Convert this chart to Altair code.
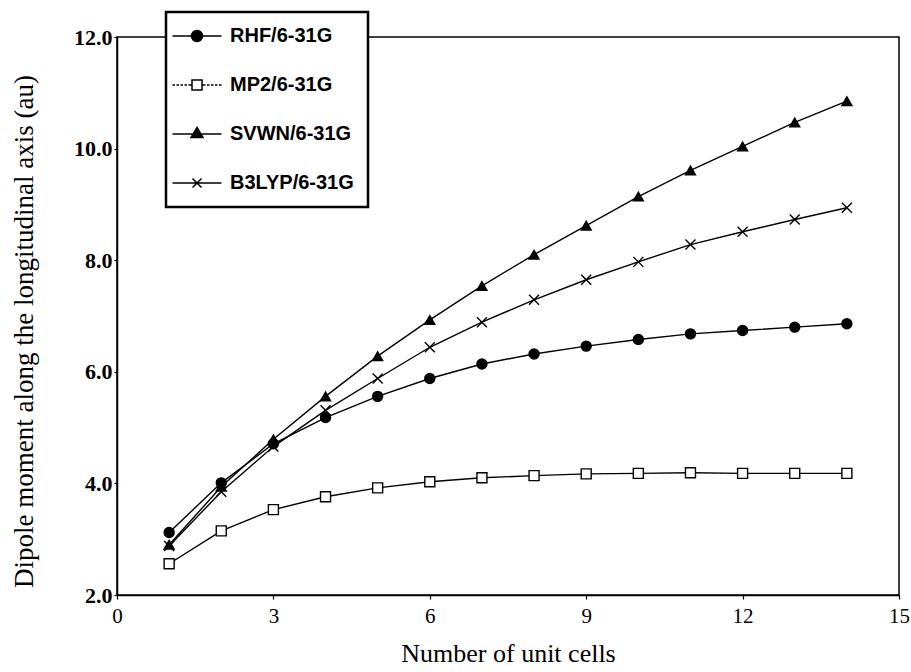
import altair as alt
import pandas as pd

# ---- data ----
cells = list(range(1, 15))
series_names = ["RHF/6-31G", "MP2/6-31G", "SVWN/6-31G", "B3LYP/6-31G"]
rhf = [3.12, 4.01, 4.71, 5.18, 5.56, 5.88, 6.14, 6.32, 6.46, 6.58, 6.68, 6.74, 6.80, 6.86]
mp2 = [2.56, 3.15, 3.53, 3.76, 3.92, 4.03, 4.10, 4.14, 4.17, 4.18, 4.19, 4.18, 4.18, 4.18]
svwn = [2.90, 3.94, 4.79, 5.56, 6.28, 6.93, 7.54, 8.10, 8.62, 9.14, 9.61, 10.04, 10.47, 10.85]
b3lyp = [2.88, 3.85, 4.66, 5.31, 5.88, 6.44, 6.89, 7.29, 7.65, 7.97, 8.28, 8.51, 8.73, 8.94]
x_ticks = [0, 3, 6, 9, 12, 15]
y_ticks = [2, 4, 6, 8, 10, 12]

rows = []
for name, vals in zip(series_names, [rhf, mp2, svwn, b3lyp]):
    for c, v in zip(cells, vals):
        rows.append({"cells": c, "dipole": v, "series": name})
df = pd.DataFrame(rows)

# ---- marker styles ----
X_PATH = "M-1,-1L1,1M-1,1L1,-1"
point_shapes = ["circle", "square", "triangle-up", X_PATH]
point_fills = ["black", "white", "black", "black"]

dash_l = "M-4.9,0H-4.4M-4.1,0H-3.6M-3.3,0H-2.8M-2.5,0H-2.0M-1.7,0H-1.0"
dash_r = "M1.0,0H1.7M2.0,0H2.5M2.8,0H3.3M3.6,0H4.1M4.4,0H4.9"
legend_shapes = [
    "M-4.9,0H-1.1M1.1,0H4.9M-1.1,0A1.1,1.1,0,1,1,1.1,0A1.1,1.1,0,1,1,-1.1,0Z",
    dash_l + dash_r + "M-1,-1H1V1H-1Z",
    "M-4.9,0H4.9M0,-1.3L1.2,0.7L-1.2,0.7Z",
    "M-4.9,0H4.9M-0.9,-0.9L0.9,0.9M-0.9,0.9L0.9,-0.9",
]

x_enc = alt.X(
    "cells:Q",
    scale=alt.Scale(domain=[0, 15], nice=False, zero=False),
    axis=alt.Axis(
        values=x_ticks, title="Number of unit cells", labelFont="Liberation Serif",
        labelFontSize=21, labelFontWeight="normal", titleFont="Liberation Serif",
        titleFontSize=26, titleFontWeight="normal", tickSize=4, labelPadding=6,
        titleY=66, titleBaseline="alphabetic", labelFlush=False,
    ),
)
y_enc = alt.Y(
    "dipole:Q",
    scale=alt.Scale(domain=[2, 12], nice=False, zero=False),
    axis=alt.Axis(
        values=y_ticks, format=".1f",
        title="Dipole moment along the longitudinal axis (au)",
        labelFont="Liberation Serif", labelFontSize=22, labelFontWeight="bold",
        titleFont="Liberation Serif", titleFontSize=27, titleFontWeight="normal",
        tickSize=3, labelPadding=2, titleX=-85, titleY=294,
        titleBaseline="alphabetic", labelFlush=False,
    ),
)

lines = alt.Chart(df).mark_line(color="black", strokeWidth=1.4).encode(
    x=x_enc, y=y_enc, detail="series:N", order="cells:Q"
)

points = alt.Chart(df).mark_point(filled=True, size=100, stroke="black", strokeWidth=1.4, opacity=1).encode(
    x=x_enc,
    y=y_enc,
    shape=alt.Shape("series:N", scale=alt.Scale(domain=series_names, range=point_shapes), legend=None),
    fill=alt.Fill("series:N", scale=alt.Scale(domain=series_names, range=point_fills), legend=None),
)

legend_props = dict(
    title=None, orient="none", legendX=49, legendY=-25,
    labelFont="Liberation Sans", labelFontSize=20, labelFontWeight="bold",
    labelColor="black", symbolSize=100, symbolStrokeWidth=1.5, symbolOpacity=1,
    symbolOffset=7, labelOffset=23, rowPadding=29, padding=14,
    fillColor="white", strokeColor="black",
)

legend_layer = alt.Chart(df).transform_filter("false").mark_point(
    filled=True, stroke="black", strokeWidth=1.5
).encode(
    shape=alt.Shape(
        "series:N",
        scale=alt.Scale(domain=series_names, range=legend_shapes),
        legend=alt.Legend(**legend_props),
    ),
    fill=alt.Fill(
        "series:N",
        scale=alt.Scale(domain=series_names, range=point_fills),
        legend=alt.Legend(**legend_props),
    ),
)

chart = (
    alt.layer(lines, points, legend_layer)
    .resolve_scale(shape="independent", fill="independent")
    .properties(
        width=782, height=558,
        autosize=alt.AutoSizeParams(type="none"),
        padding={"left": 117, "top": 37, "right": 12, "bottom": 77},
        background="white",
    )
    .configure_view(stroke="black", strokeWidth=1.5)
    .configure_axis(
        grid=False, domainColor="black", domainWidth=1.5, tickColor="black",
        tickWidth=1.2, labelColor="black", titleColor="black",
    )
    .configure_legend(strokeWidth=2.5)
)

chart.save("out.html", embed_options={"renderer": "svg", "actions": False})
